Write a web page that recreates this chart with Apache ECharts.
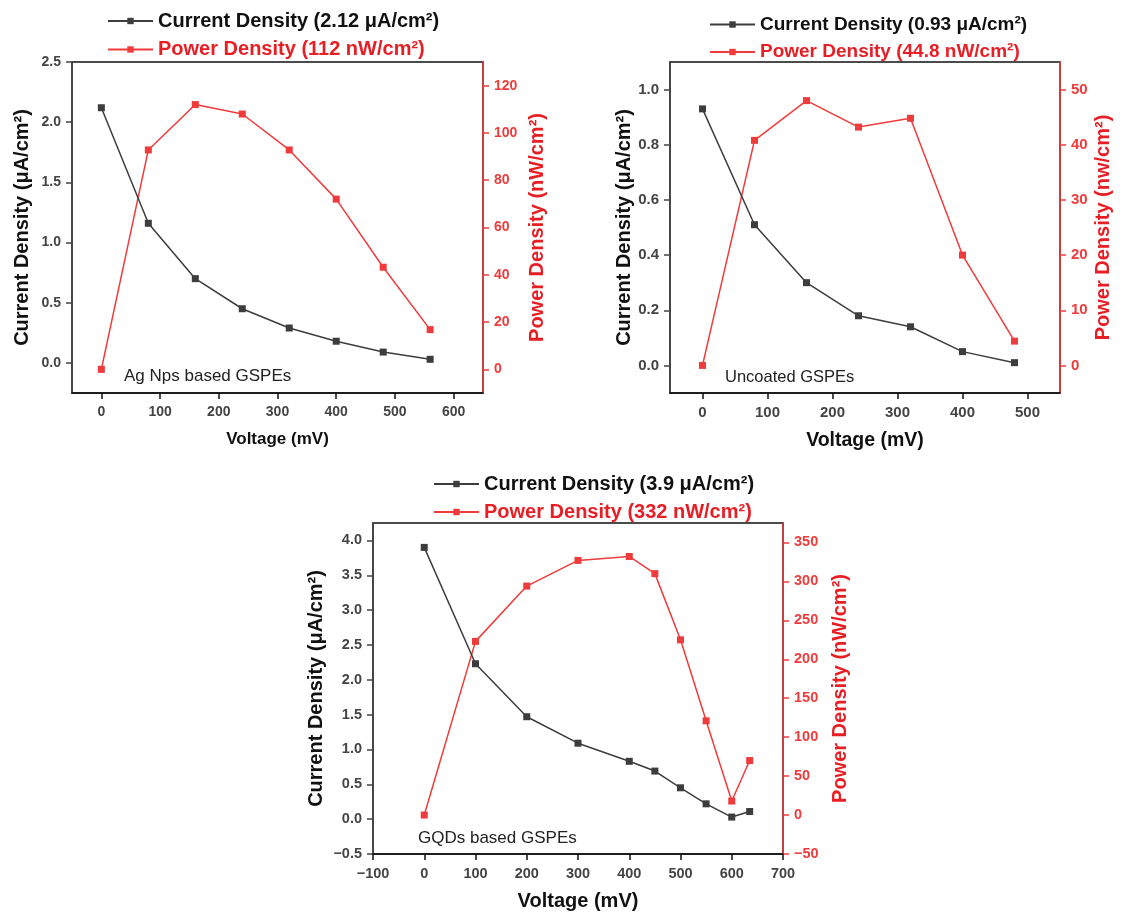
<!DOCTYPE html>
<html>
<head>
<meta charset="utf-8">
<title>Current and power density vs voltage</title>
<script src="https://cdn.jsdelivr.net/npm/echarts@6/dist/echarts.min.js"></script>
<style>
  html, body { margin: 0; padding: 0; background: #ffffff; }
  #chart { width: 1141px; height: 912px; }
</style>
</head>
<body>
<div id="chart"></div>
<script>
// ---- Ag Nps based GSPEs ----
const agVoltage = [0, 80, 160, 240, 320, 400, 480, 560];
const agCurrent = [2.12, 1.16, 0.70, 0.45, 0.29, 0.18, 0.09, 0.03];
const agPower = [0, 92.8, 112, 108, 92.8, 72, 43.2, 16.8];
const agVoltTicks = [0, 100, 200, 300, 400, 500, 600];
const agCurrTicks = [0, 0.5, 1.0, 1.5, 2.0, 2.5];
const agPowTicks = [0, 20, 40, 60, 80, 100, 120];

// ---- Uncoated GSPEs ----
const unVoltage = [0, 80, 160, 240, 320, 400, 480];
const unCurrent = [0.93, 0.51, 0.30, 0.18, 0.14, 0.05, 0.01];
const unPower = [0, 40.8, 48, 43.2, 44.8, 20, 4.4];
const unVoltTicks = [0, 100, 200, 300, 400, 500];
const unCurrTicks = [0, 0.2, 0.4, 0.6, 0.8, 1.0];
const unPowTicks = [0, 10, 20, 30, 40, 50];

// ---- GQDs based GSPEs ----
const gqVoltage = [0, 100, 200, 300, 400, 450, 500, 550, 600, 635];
const gqCurrent = [3.9, 2.23, 1.47, 1.09, 0.83, 0.69, 0.45, 0.22, 0.03, 0.11];
const gqPower = [0, 223, 294, 327, 332, 310, 225, 121, 18, 70];
const gqVoltTicks = [-100, 0, 100, 200, 300, 400, 500, 600, 700];
const gqCurrTicks = [-0.5, 0, 0.5, 1.0, 1.5, 2.0, 2.5, 3.0, 3.5, 4.0];
const gqPowTicks = [-50, 0, 50, 100, 150, 200, 250, 300, 350];

const FONT = '"Liberation Sans", Arial, Helvetica, sans-serif';
const DARK = '#3d3d3d';
const RED = '#ef3b3b';
const RED_TEXT = '#e81e25';

const panels = [
  {
    volt: agVoltage, cur: agCurrent, pow: agPower,
    vt: agVoltTicks, ct: agCurrTicks, pt: agPowTicks,
    curName: 'Current Density (2.12 μA/cm²)',
    powName: 'Power Density (112 nW/cm²)',
    powAxis: 'Power Density (nW/cm²)',
    note: 'Ag Nps based GSPEs',
    grid: { left: 72, top: 62, width: 411, height: 331 },
    xr: [-50, 650], yl: [-0.25, 2.5], yr: [-10, 130],
    legend: { left: 107, top: 11 }, legendGap: 8.5, legendFont: 20, titleFont: 17, tickFont: 14,
    yTitleFont: 20, noteFont: 17,
    note_pos: { left: 124, top: 368 },
    lGap: 40, rGap: 44, xGap: 38
  },
  {
    volt: unVoltage, cur: unCurrent, pow: unPower,
    vt: unVoltTicks, ct: unCurrTicks, pt: unPowTicks,
    curName: 'Current Density (0.93 μA/cm²)',
    powName: 'Power Density (44.8 nW/cm²)',
    powAxis: 'Power Density (nw/cm²)',
    note: 'Uncoated GSPEs',
    grid: { left: 670, top: 62, width: 390, height: 331 },
    xr: [-50, 550], yl: [-0.1, 1.1], yr: [-5, 55],
    legend: { left: 709, top: 15 }, legendGap: 8.5, legendFont: 19, titleFont: 19.5, tickFont: 15,
    yTitleFont: 20, noteFont: 16.5,
    note_pos: { left: 725, top: 369 },
    lGap: 36, rGap: 33, xGap: 38
  },
  {
    volt: gqVoltage, cur: gqCurrent, pow: gqPower,
    vt: gqVoltTicks, ct: gqCurrTicks, pt: gqPowTicks,
    curName: 'Current Density (3.9 μA/cm²)',
    powName: 'Power Density (332 nW/cm²)',
    powAxis: 'Power Density (nW/cm²)',
    note: 'GQDs based GSPEs',
    grid: { left: 373, top: 523, width: 410, height: 332 },
    xr: [-100, 700], yl: [-0.5, 4.25], yr: [-50, 375],
    legend: { left: 433, top: 474 }, legendGap: 8, legendFont: 20, titleFont: 20, tickFont: 14.5,
    yTitleFont: 20, noteFont: 17,
    note_pos: { left: 418, top: 830 },
    lGap: 47, rGap: 47, xGap: 37
  }
];

const minus = s => String(s).replace('-', '\u2212');
const zip = (xs, ys) => xs.map((x, i) => [x, ys[i]]);

const option = {
  animation: false,
  backgroundColor: '#ffffff',
  textStyle: { fontFamily: FONT },
  grid: [], xAxis: [], yAxis: [], series: [], legend: [], graphic: []
};

panels.forEach((p, i) => {
  option.grid.push(Object.assign({
    show: true, borderColor: '#111', borderWidth: 1.5, backgroundColor: 'transparent'
  }, p.grid));

  option.xAxis.push({
    type: 'value', gridIndex: i, min: p.xr[0], max: p.xr[1],
    name: 'Voltage (mV)', nameLocation: 'middle', nameGap: p.xGap,
    nameTextStyle: { fontFamily: FONT, fontWeight: 'bold', fontSize: p.titleFont, color: '#111' },
    axisLine: { onZero: false, lineStyle: { color: '#111', width: 1.5 } },
    axisTick: { show: true, inside: false, length: 6, customValues: p.vt, lineStyle: { color: '#111', width: 1.5 } },
    axisLabel: {
      customValues: p.vt, margin: 12, color: '#444', fontWeight: 'bold', fontSize: p.tickFont, fontFamily: FONT,
      formatter: v => minus(v)
    },
    splitLine: { show: false }
  });

  option.yAxis.push({
    type: 'value', gridIndex: i, position: 'left', min: p.yl[0], max: p.yl[1],
    name: 'Current Density (μA/cm²)', nameLocation: 'middle', nameRotate: 90, nameGap: p.lGap,
    nameTextStyle: { fontFamily: FONT, fontWeight: 'bold', fontSize: p.yTitleFont, color: '#111' },
    axisLine: { onZero: false, lineStyle: { color: '#444', width: 1.5 } },
    axisTick: { show: true, inside: false, length: 6, customValues: p.ct, lineStyle: { color: '#444', width: 1.5 } },
    axisLabel: {
      customValues: p.ct, margin: 11, color: '#444', fontWeight: 'bold', fontSize: p.tickFont, fontFamily: FONT,
      formatter: v => minus(Number(v).toFixed(1))
    },
    splitLine: { show: false }
  });

  option.yAxis.push({
    type: 'value', gridIndex: i, position: 'right', min: p.yr[0], max: p.yr[1],
    name: p.powAxis, nameLocation: 'middle', nameRotate: 90, nameGap: p.rGap,
    nameTextStyle: { fontFamily: FONT, fontWeight: 'bold', fontSize: p.yTitleFont, color: RED_TEXT },
    axisLine: { onZero: false, lineStyle: { color: RED, width: 1.5 } },
    axisTick: { show: true, inside: false, length: 6, customValues: p.pt, lineStyle: { color: RED, width: 1.5 } },
    axisLabel: {
      customValues: p.pt, margin: 11, color: RED, fontWeight: 'bold', fontSize: p.tickFont, fontFamily: FONT,
      formatter: v => minus(v)
    },
    splitLine: { show: false }
  });

  option.series.push({
    name: p.curName, type: 'line', xAxisIndex: i, yAxisIndex: 2 * i,
    data: zip(p.volt, p.cur), symbol: 'rect', symbolSize: 7,
    lineStyle: { color: DARK, width: 1.5 }, itemStyle: { color: DARK }, z: 3
  });
  option.series.push({
    name: p.powName, type: 'line', xAxisIndex: i, yAxisIndex: 2 * i + 1,
    data: zip(p.volt, p.pow), symbol: 'rect', symbolSize: 7,
    lineStyle: { color: RED, width: 1.5 }, itemStyle: { color: RED }, z: 2
  });

  option.legend.push({
    orient: 'vertical', left: p.legend.left, top: p.legend.top,
    itemWidth: 45, itemHeight: 8, itemGap: p.legendGap, padding: 0,
    selectedMode: false,
    textStyle: { fontFamily: FONT, fontWeight: 'bold', fontSize: p.legendFont },
    data: [
      { name: p.curName, textStyle: { color: '#111' } },
      { name: p.powName, textStyle: { color: RED_TEXT } }
    ]
  });

  option.graphic.push({
    type: 'text', left: p.note_pos.left, top: p.note_pos.top,
    style: { text: p.note, font: p.noteFont + 'px ' + FONT, fill: '#222' }
  });
});

const chart = echarts.init(document.getElementById('chart'), null, { renderer: 'canvas' });
chart.setOption(option);
</script>
</body>
</html>
